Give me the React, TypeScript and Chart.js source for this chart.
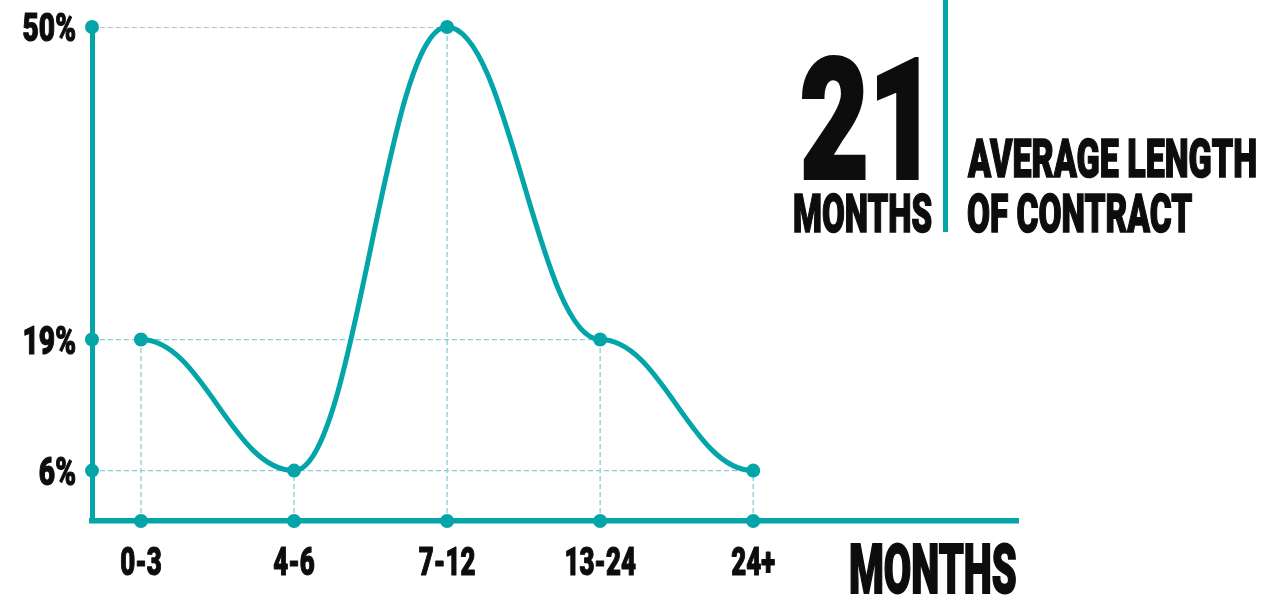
import React, { useEffect, useRef } from 'react';
import { Chart, registerables } from 'chart.js';

Chart.register(...registerables);

// ---- data ----
const categories = ['0-3', '4-6', '7-12', '13-24', '24+'];
const shares = [19, 6, 50, 19, 6];
const yTicks = [6, 19, 50];
const yTickLabels = ['6%', '19%', '50%'];
const headlineValue = '21';
const headlineUnit = 'MONTHS';
const captionLines = ['AVERAGE LENGTH', 'OF CONTRACT'];
const xTitle = 'MONTHS';

// ---- style ----
const W = 1263;
const H = 603;
const TEAL = '#03a5a8';
const GUIDE = '#88ced1';
const PEAK_GUIDE = '#b39ad8';
const INK = '#0d0d0d';
const FONT = "Roboto, 'Liberation Sans', Arial, sans-serif";
const WEIGHT = '900';

const X_MIN = -0.32;
const X_MAX = 5.73;
const Y_MIN = 1;
const Y_MAX = 50;

const mctx: CanvasRenderingContext2D | null =
  typeof document !== 'undefined' ? document.createElement('canvas').getContext('2d') : null;

type Fit = { size: number; sx: number; abl: number; asc: number; desc: number; stroke: number };

function fit(text: string, capPx: number, inkWidth: number, stroke: number): Fit {
  const c = mctx as CanvasRenderingContext2D;
  c.font = `${WEIGHT} 100px ${FONT}`;
  const capRatio = c.measureText('H').actualBoundingBoxAscent / 100;
  const size = (capPx - stroke / 2) / capRatio;
  c.font = `${WEIGHT} ${size}px ${FONT}`;
  const m = c.measureText(text);
  const ink = m.actualBoundingBoxLeft + m.actualBoundingBoxRight;
  const sx = (inkWidth - stroke) / ink;
  return {
    size,
    sx,
    abl: m.actualBoundingBoxLeft,
    asc: m.fontBoundingBoxAscent,
    desc: m.fontBoundingBoxDescent,
    stroke,
  };
}

function drawText(
  ctx: CanvasRenderingContext2D,
  text: string,
  x: number,
  baseline: number,
  f: Fit,
  align: CanvasTextAlign,
) {
  ctx.save();
  ctx.font = `${WEIGHT} ${f.size}px ${FONT}`;
  ctx.textAlign = align;
  ctx.textBaseline = 'alphabetic';
  ctx.translate(x, baseline);
  ctx.scale(f.sx, 1);
  ctx.fillStyle = INK;
  ctx.strokeStyle = INK;
  ctx.lineJoin = 'round';
  ctx.lineWidth = f.stroke;
  ctx.fillText(text, 0, 0);
  if (f.stroke > 0) ctx.strokeText(text, 0, 0);
  ctx.restore();
}

// horizontal-tangent smoothing (control points at a fraction of the gap)
const SMOOTH = 0.4;
const smoothPlugin = {
  id: 'horizontalSmooth',
  beforeDatasetDraw(chart: any, args: any) {
    if (args.index !== 0) return;
    const meta = args.meta;
    const line = meta.dataset;
    line.updateControlPoints(chart.chartArea, 'x');
    const pts = meta.data;
    for (let i = 0; i < pts.length; i++) {
      const p = pts[i];
      const prev = pts[i - 1];
      const next = pts[i + 1];
      p.cp1x = prev ? p.x - (p.x - prev.x) * SMOOTH : p.x;
      p.cp1y = p.y;
      p.cp2x = next ? p.x + (next.x - p.x) * SMOOTH : p.x;
      p.cp2y = p.y;
    }
    line._path = undefined;
  },
};

const tickLabelPlugin = {
  id: 'condensedTickLabels',
  afterDraw(chart: any) {
    const { ctx, scales } = chart;
    const xs = scales.x;
    const ys = scales.y;
    const yf = fit('50%', 29, 53, 1.2);
    ys.ticks.forEach((t: any) => {
      const idx = yTicks.indexOf(t.value);
      const label = idx >= 0 ? yTickLabels[idx] : `${t.value}%`;
      drawText(ctx, label, 76, ys.getPixelForValue(t.value) + 14, yf, 'right');
    });
    const xf = fit('7-12', 28, 57, 1.2);
    xs.ticks.forEach((t: any) => {
      const label = categories[t.value];
      if (label === undefined) return;
      drawText(ctx, label, xs.getPixelForValue(t.value), 575, xf, 'center');
    });
  },
};

function FitText(props: { text: string; left: number; baseline: number; cap: number; width: number; stroke: number }) {
  const f = fit(props.text, props.cap, props.width, props.stroke);
  const left = props.left + props.stroke / 2 + f.abl * f.sx;
  return (
    <div
      style={{
        position: 'absolute',
        left,
        top: props.baseline - f.asc,
        fontFamily: FONT,
        fontWeight: 900,
        fontSize: `${f.size}px`,
        lineHeight: `${f.asc + f.desc}px`,
        whiteSpace: 'nowrap',
        color: INK,
        WebkitTextStroke: `${props.stroke}px ${INK}`,
        transform: `scaleX(${f.sx})`,
        transformOrigin: '0 0',
      }}
    >
      {props.text}
    </div>
  );
}

export default function App() {
  const canvasRef = useRef<HTMLCanvasElement | null>(null);

  useEffect(() => {
    const canvas = canvasRef.current;
    if (!canvas) return;
    const peak = Math.max(...shares);
    const hGuides = yTicks.map((v) => {
      const last = shares.lastIndexOf(v);
      return {
        type: 'line' as const,
        data: [
          { x: X_MIN, y: v },
          { x: last, y: v },
        ],
        borderColor: v === peak ? PEAK_GUIDE : GUIDE,
        borderWidth: 1.3,
        borderDash: [5, 3],
        pointRadius: 0,
        tension: 0,
        order: 5,
      };
    });
    const vGuides = shares.map((v, i) => ({
      type: 'line' as const,
      data: [
        { x: i, y: Y_MIN },
        { x: i, y: v },
      ],
      borderColor: GUIDE,
      borderWidth: 1.3,
      borderDash: [5, 3],
      pointRadius: 0,
      tension: 0,
      order: 5,
    }));
    const axisDots = {
      type: 'line' as const,
      showLine: false,
      data: [
        ...yTicks.map((v) => ({ x: X_MIN, y: v })),
        ...shares.map((_, i) => ({ x: i, y: Y_MIN })),
      ],
      pointRadius: 7,
      pointBackgroundColor: TEAL,
      pointBorderWidth: 0,
      clip: false,
      order: 1,
    };

    const chart = new Chart(canvas, {
      type: 'line',
      data: {
        datasets: [
          {
            data: shares.map((v, i) => ({ x: i, y: v })),
            borderColor: TEAL,
            borderWidth: 5,
            pointRadius: 7,
            pointBackgroundColor: TEAL,
            pointBorderWidth: 0,
            tension: 0.4,
            clip: false,
            order: 0,
          } as any,
          ...hGuides,
          ...vGuides,
          axisDots as any,
        ],
      },
      options: {
        animation: false,
        responsive: false,
        devicePixelRatio: 1,
        events: [],
        layout: { padding: { top: 27, right: W - 1018, left: 0, bottom: 0 } },
        plugins: { legend: { display: false }, tooltip: { enabled: false } },
        scales: {
          x: {
            type: 'linear',
            min: X_MIN,
            max: X_MAX,
            grid: { display: false },
            border: { display: true, color: TEAL, width: 5.5 },
            ticks: { display: false },
            afterBuildTicks: (s: any) => {
              s.ticks = categories.map((_, i) => ({ value: i }));
            },
            afterFit: (s: any) => {
              s.height = H - 521;
            },
          },
          y: {
            type: 'linear',
            min: Y_MIN,
            max: Y_MAX,
            grid: { display: false },
            border: { display: true, color: TEAL, width: 5 },
            ticks: { display: false },
            afterBuildTicks: (s: any) => {
              s.ticks = yTicks.map((v) => ({ value: v }));
            },
            afterFit: (s: any) => {
              s.width = 92;
            },
          },
        },
      } as any,
      plugins: [smoothPlugin, tickLabelPlugin],
    });
    return () => chart.destroy();
  }, []);

  return (
    <div style={{ position: 'fixed', left: 0, top: 0, width: W, height: H, background: '#fff', overflow: 'hidden' }}>
      <canvas ref={canvasRef} width={W} height={H} style={{ display: 'block', width: W, height: H }} />
      <FitText text={headlineValue} left={801} baseline={178} cap={122} width={119} stroke={4} />
      <FitText text={headlineUnit} left={793} baseline={232} cap={40} width={139} stroke={1.6} />
      <div style={{ position: 'absolute', left: 943, top: 0, width: 5, height: 232, background: TEAL }} />
      <FitText text={captionLines[0]} left={967} baseline={177} cap={40} width={290} stroke={1.6} />
      <FitText text={captionLines[1]} left={967} baseline={232} cap={40} width={226} stroke={1.6} />
      <FitText text={xTitle} left={850} baseline={593} cap={50} width={167} stroke={2} />
    </div>
  );
}
